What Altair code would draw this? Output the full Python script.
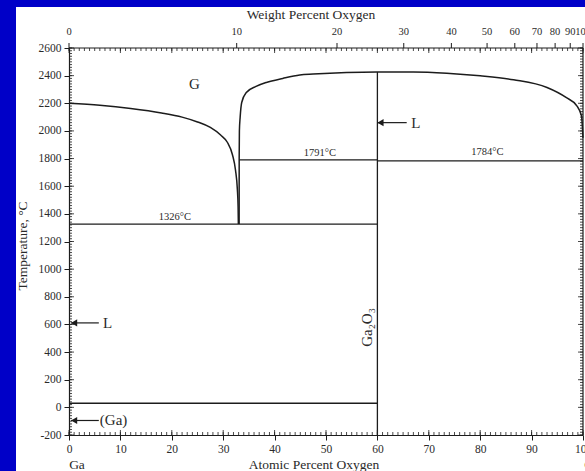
import altair as alt
import pandas as pd
import numpy as np

# ---------------- data ----------------
# Ga-rich gas/liquid boundary (atomic % O, temperature °C)
left_curve_x = [0, 6, 12, 18, 22, 25, 27.5, 29.5, 30.8, 31.8, 32.4, 32.75, 32.9, 32.95]
left_curve_T = [2200, 2185, 2162, 2130, 2100, 2065, 2025, 1970, 1918, 1828, 1715, 1580, 1450, 1326]

# O-rich gas/liquid boundary
right_curve_x = [33.1, 33.11, 33.15, 33.3, 33.6, 34.5, 36.4, 38.4, 41.6, 44.9, 47.5,
                 54.0, 59.9, 67.0, 73.5, 80.0, 86.5, 93.0, 96.7, 98.8, 99.7, 100.0]
right_curve_T = [1326, 1800, 2000, 2100, 2206, 2278, 2322, 2351, 2380, 2404, 2411,
                 2423, 2427, 2427, 2418, 2399, 2370, 2314, 2242, 2181, 2109, 1950]

# horizontal invariant lines
iso_T = [1326, 1791, 1784, 29.8]
iso_x1 = [0, 33.1, 60, 0]
iso_x2 = [60, 60, 100, 60]

# Ga2O3 compound line
comp_x = [60]
comp_T1 = [-200]
comp_T2 = [2427]

# in-plot labels
lab_text = ["G", "1326°C", "1791°C", "1784°C"]
lab_x = [24.4, 20.6, 48.8, 81.4]
lab_T = [2336, 1379, 1837, 1846]
lab_size = [15, 10.5, 10.5, 10.5]

# arrows (tip, tail, label)
arr_tip = [60, 0.4, 0.4]
arr_tail = [65.7, 5.8, 5.8]
arr_T = [2060, 611, -95]
arr_label = ["L", "L", "(Ga)"]
arr_label_x = [66.6, 6.6, 6.0]

# axis ticks
at_ticks = list(range(0, 101, 10))
T_ticks = list(range(-200, 2601, 200))
wt_ticks = list(range(0, 101, 10))

# ---------------- helpers ----------------
W, H = 514, 387
FONT = "Liberation Serif, DejaVu Serif, serif"
INK = "#1c1c1c"
TXT = "#2a2a2a"


def wt_to_at(w):
    w = np.asarray(w, dtype=float)
    no = w / 15.999
    nga = (100 - w) / 69.723
    return 100 * no / (no + nga)


common_axis = dict(title=None, tickSize=5, labelPadding=3, grid=False,
                   domainColor=INK, tickColor=INK, labelColor=TXT, labelFont=FONT,
                   labelFontSize=11.5, zindex=1, labelFlush=False, labelOverlap=False,
                   format="d", domainWidth=1.2, tickWidth=1,
                   labelExpr="replace(datum.label, '\u2212', '-')")
x_axis = alt.Axis(values=at_ticks, **common_axis)
y_axis = alt.Axis(values=T_ticks, **common_axis)
xs = alt.Scale(domain=[0, 100], nice=False, zero=False)
ys = alt.Scale(domain=[-200, 2600], nice=False, zero=False)


def X(f="x"):
    return alt.X(f"{f}:Q", scale=xs, axis=x_axis)


def Y(f="y"):
    return alt.Y(f"{f}:Q", scale=ys, axis=y_axis)


one = pd.DataFrame({"a": [0]})

# white panel behind the figure
panel = alt.Chart(one).mark_rect(color="white").encode(
    x=alt.value(-53), x2=alt.value(W + 20), y=alt.value(-41), y2=alt.value(H + 60))

left_df = pd.DataFrame({"x": left_curve_x, "y": left_curve_T, "i": range(len(left_curve_x))})
right_df = pd.DataFrame({"x": right_curve_x, "y": right_curve_T, "i": range(len(right_curve_x))})

left_line = alt.Chart(left_df).mark_line(color=INK, strokeWidth=1.5, interpolate="monotone").encode(
    x=X(), y=Y(), order="i:Q")
right_line = alt.Chart(right_df).mark_line(color=INK, strokeWidth=1.5, interpolate="monotone").encode(
    x=X(), y=Y(), order="i:Q")

iso_df = pd.DataFrame({"x": iso_x1, "x2": iso_x2, "y": iso_T})
iso = alt.Chart(iso_df).mark_rule(color=INK, strokeWidth=1.3).encode(
    x=X(), x2="x2:Q", y=Y())

comp_df = pd.DataFrame({"x": comp_x, "y": comp_T1, "y2": comp_T2})
comp = alt.Chart(comp_df).mark_rule(color=INK, strokeWidth=1.3).encode(
    x=X(), y=Y(), y2="y2:Q")

lab_df = pd.DataFrame({"x": lab_x, "y": lab_T, "t": lab_text, "s": lab_size})
labels = alt.Chart(lab_df).mark_text(font=FONT, color=TXT, baseline="middle", align="center").encode(
    x=X(), y=Y(), text="t:N",
    size=alt.Size("s:Q", scale=None, legend=None))

arr_df = pd.DataFrame({"x": arr_tip, "x2": arr_tail, "y": arr_T, "lx": arr_label_x,
                       "t": arr_label, "px": [v + 0.6 for v in arr_tip]})
arr_lines = alt.Chart(arr_df).mark_rule(color=INK, strokeWidth=1.2).encode(
    x=X(), x2="x2:Q", y=Y())
arr_heads = alt.Chart(arr_df).mark_point(shape="triangle-left", filled=True, size=50,
                                         color=INK, opacity=1).encode(x=X("px"), y=Y())
arr_text = alt.Chart(arr_df).mark_text(font=FONT, fontSize=15, color=TXT, align="left",
                                       baseline="middle").encode(x=X("lx"), y=Y(), text="t:N")

ga2o3 = alt.Chart(pd.DataFrame({"x": [58.0], "y": [578], "t": ["Ga₂O₃"]})).mark_text(
    font=FONT, fontSize=15, color=TXT, angle=270, align="center", baseline="middle").encode(
    x=X(), y=Y(), text="t:N")

# minor / inward ticks
at_minor = pd.DataFrame({"x": list(range(0, 101))})
at_major = pd.DataFrame({"x": at_ticks})
T_minor = pd.DataFrame({"y": list(range(-200, 2601, 20))})
T_major = pd.DataFrame({"y": T_ticks})

tk = dict(color=INK, strokeWidth=0.8)
bot_minor = alt.Chart(at_minor).mark_rule(**tk).encode(x=X(), y=alt.value(H), y2=alt.value(H - 3))
bot_major = alt.Chart(at_major).mark_rule(**tk).encode(x=X(), y=alt.value(H), y2=alt.value(H - 5))
top_minor = alt.Chart(at_minor).mark_rule(**tk).encode(x=X(), y=alt.value(0), y2=alt.value(3))
top_major = alt.Chart(at_major).mark_rule(**tk).encode(x=X(), y=alt.value(0), y2=alt.value(5))
lft_minor = alt.Chart(T_minor).mark_rule(**tk).encode(y=Y(), x=alt.value(0), x2=alt.value(3))
lft_major = alt.Chart(T_major).mark_rule(**tk).encode(y=Y(), x=alt.value(0), x2=alt.value(5))
rgt_minor = alt.Chart(T_minor).mark_rule(**tk).encode(y=Y(), x=alt.value(W), x2=alt.value(W - 3))
rgt_major = alt.Chart(T_major).mark_rule(**tk).encode(y=Y(), x=alt.value(W), x2=alt.value(W - 5))

# frame (top and right)
frame_top = alt.Chart(one).mark_rule(color=INK, strokeWidth=1.2).encode(
    x=alt.value(0), x2=alt.value(W), y=alt.value(0))
frame_right = alt.Chart(one).mark_rule(color=INK, strokeWidth=1.2).encode(
    x=alt.value(W), y=alt.value(0), y2=alt.value(H))

# top (weight percent) axis
wt_df = pd.DataFrame({"x": wt_to_at(wt_ticks), "t": [str(w) for w in wt_ticks]})
top_ticks = alt.Chart(wt_df).mark_rule(color=INK, strokeWidth=1).encode(
    x=X(), y=alt.value(0), y2=alt.value(-5))
top_labels = alt.Chart(wt_df).mark_text(font=FONT, fontSize=10.5, color=TXT, baseline="middle",
                                        align="center").encode(x=X(), y=alt.value(-16), text="t:N")

# titles
ttl = dict(font=FONT, fontSize=13.5, color=TXT, baseline="middle", align="center")
t_top = alt.Chart(one).mark_text(text="Weight Percent Oxygen", **ttl).encode(
    x=alt.value(242), y=alt.value(-33))
t_bot = alt.Chart(one).mark_text(text="Atomic Percent Oxygen", **ttl).encode(
    x=alt.value(245), y=alt.value(417))
t_ga = alt.Chart(one).mark_text(text="Ga", **ttl).encode(x=alt.value(8), y=alt.value(417))
t_o = alt.Chart(one).mark_text(text="O", **ttl).encode(x=alt.value(W + 6), y=alt.value(417))
t_y = alt.Chart(one).mark_text(text="Temperature, °C", angle=270, **ttl).encode(
    x=alt.value(-46), y=alt.value(198))

chart = alt.layer(
    panel, bot_minor, bot_major, top_minor, top_major, lft_minor, lft_major,
    rgt_minor, rgt_major, frame_top, frame_right, top_ticks, top_labels,
    iso, comp, left_line, right_line, labels, arr_lines, arr_heads, arr_text, ga2o3,
    t_top, t_bot, t_ga, t_o, t_y,
).properties(
    width=W, height=H,
    padding={"left": 69, "top": 48, "right": 2, "bottom": 36},
    autosize=alt.AutoSizeParams(type="none"),
    background="#0000C8",
).configure_view(strokeWidth=0)

chart.save("out.html", embed_options={"renderer": "svg", "actions": False})
